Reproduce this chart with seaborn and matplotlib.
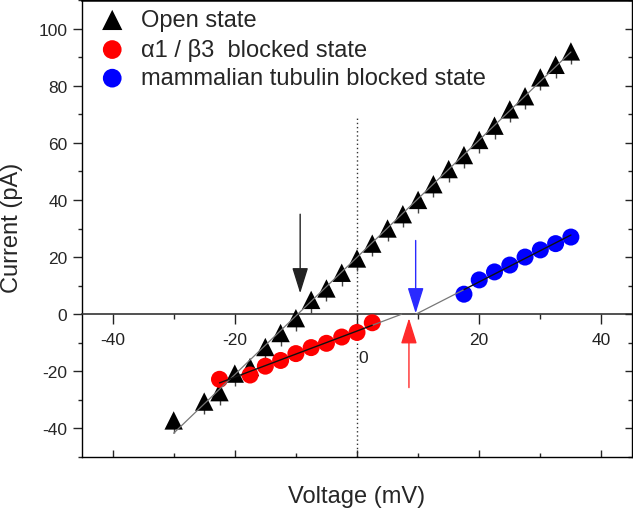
import numpy as np
import pandas as pd
import matplotlib
matplotlib.use("Agg")
import matplotlib.pyplot as plt
import seaborn as sns
from matplotlib.ticker import MultipleLocator

# ---------------- data ----------------
open_v = [-30, -25, -22.5, -20, -17.5, -15, -12.5, -10, -7.5, -5, -2.5, 0, 2.5,
          5, 7.5, 10, 12.5, 15, 17.5, 20, 22.5, 25, 27.5, 30, 32.5, 35]
open_i = [-37.2, -30.6, -27.3, -20.8, -18.5, -11.5, -6.6, -1.4, 5.0, 9.0, 14.5,
          19.5, 24.7, 30.0, 35.0, 40.0, 45.5, 50.8, 55.7, 61.0, 66.0, 71.7,
          76.3, 82.9, 87.3, 92.0]
open_err = 4.5

red_v = [-22.5, -17.5, -15, -12.5, -10, -7.5, -5, -2.5, 0, 2.5]
red_i = [-22.8, -21.3, -18.2, -16.2, -13.8, -11.7, -10.2, -8.0, -6.4, -3.0]

blue_v = [17.5, 20, 22.5, 25, 27.5, 30, 32.5, 35]
blue_i = [7.0, 12.0, 14.8, 17.2, 20.0, 22.5, 24.7, 27.0]

labels = ["Open state", "\u03b11 / \u03b23  blocked state",
          "mammalian tubulin blocked state"]

# reversal-potential arrows: (x, start y, tip y)
arrow_open = (-9.3, 35.0, 7.3)
arrow_red = (8.5, -25.7, -1.4)
arrow_blue = (9.6, 25.8, 0.3)

x_major = [-40, -20, 0, 20, 40]
x_labels = ["-40", "-20", "", "20", "40"]
y_major = [-40, -20, 0, 20, 40, 60, 80, 100]
y_labels = ["-40", "-20", "0", "20", "40", "60", "80", "100"]

# ---------------- style ----------------
sns.set_style("ticks")
plt.rcParams["font.family"] = ["Liberation Sans", "DejaVu Sans"]

W, H = 633, 510
fig = plt.figure(figsize=(W / 100, H / 100), dpi=100)
rect = [82 / W, 1 - 458 / H, (632 - 82) / W, (458 - 1) / H]
ax = fig.add_axes(rect)
ax.set_xlim(-45, 45)
ax.set_ylim(-50, 110)

df_open = pd.DataFrame({"V": open_v, "I": open_i})
df_red = pd.DataFrame({"V": red_v, "I": red_i})
df_blue = pd.DataFrame({"V": blue_v, "I": blue_i})

# dotted vertical line at 0 mV
ax.plot([0, 0], [-50, 69], color="#333333", lw=1.0, ls=(0, (1, 2)), zorder=1)

# error stems under the open-state triangles
n = len(open_v)
ax.errorbar(open_v, open_i, yerr=[[open_err] * n, [0] * n], fmt="none",
            ecolor="#444444", elinewidth=1.0, capsize=0, zorder=2,
            label="_nolegend_")

sns.scatterplot(data=df_open, x="V", y="I", marker="^", s=175, color="black",
                edgecolor="none", linewidth=0, ax=ax, zorder=3, label=labels[0])
sns.scatterplot(data=df_red, x="V", y="I", marker="o", s=150, color="#ff0000",
                edgecolor="none", linewidth=0, ax=ax, zorder=3, label=labels[1])
sns.scatterplot(data=df_blue, x="V", y="I", marker="o", s=150, color="#0000ff",
                edgecolor="none", linewidth=0, ax=ax, zorder=3, label=labels[2])

# linear fits
m_o, b_o = np.polyfit(open_v, open_i, 1)
xo = np.array([min(open_v), max(open_v)])
ax.plot(xo, m_o * xo + b_o, color="#777777", lw=0.9, zorder=4)

m_r, b_r = np.polyfit(red_v, red_i, 1)
xr_ext = np.array([max(red_v), -b_r / m_r])
ax.plot(xr_ext, m_r * xr_ext + b_r, color="#777777", lw=0.9, zorder=4)
xr = np.array([min(red_v), max(red_v)])
ax.plot(xr, m_r * xr + b_r, color="#111111", lw=1.0, zorder=4)

m_b, b_b = np.polyfit(blue_v, blue_i, 1)
xb_ext = np.array([-b_b / m_b, min(blue_v)])
ax.plot(xb_ext, m_b * xb_ext + b_b, color="#777777", lw=0.9, zorder=4)
xb = np.array([min(blue_v), max(blue_v)])
ax.plot(xb, m_b * xb + b_b, color="#111111", lw=1.0, zorder=4)

# arrows
for (x, y0, y1), col in [(arrow_open, "#222222"), (arrow_red, "#ff2a2a"),
                         (arrow_blue, "#2a2aff")]:
    ax.annotate("", xy=(x, y1), xytext=(x, y0),
                arrowprops=dict(arrowstyle="-|>,head_length=16,head_width=5",
                                mutation_scale=1, color=col, lw=1.0,
                                shrinkA=0, shrinkB=0), zorder=5)

# ---------------- axes styling ----------------
for s in ["top", "right"]:
    ax.spines[s].set_visible(False)
ax.spines["bottom"].set_position(("data", 0))
ax.spines["bottom"].set_color("#333333")
ax.spines["bottom"].set_linewidth(1.2)
ax.spines["left"].set_linewidth(1.0)
ax.spines["left"].set_color("black")

ax.set_xticks(x_major)
ax.set_xticklabels(x_labels)
ax.xaxis.set_minor_locator(MultipleLocator(10))
ax.set_yticks(y_major)
ax.set_yticklabels(y_labels)
ax.yaxis.set_minor_locator(MultipleLocator(10))
ax.tick_params(axis="x", which="major", direction="out", length=7, width=1.0,
               pad=5.5, labelsize=12.5, colors="#222222")
ax.tick_params(axis="x", which="minor", direction="out", length=3.5, width=1.0)
ax.tick_params(axis="y", which="major", direction="out", length=6.5, width=1.0,
               pad=4, labelsize=12.5)
ax.tick_params(axis="y", which="minor", direction="out", length=3, width=1.0)
ax.text(1.0, -15, "0", ha="center", va="center", fontsize=12.5, color="#222222")

ax.set_xlabel("Voltage (mV)", fontsize=17)
ax.xaxis.set_label_coords(0.5, -0.061)
ax.set_ylabel("Current (pA)", fontsize=17)
ax.yaxis.set_label_coords(-0.108, 0.503)

leg = ax.legend(loc="upper left", bbox_to_anchor=(0.0335, 0.98), frameon=False,
                fontsize=17, handlelength=1.0, handletextpad=0.7,
                labelspacing=0.28, borderpad=0, borderaxespad=0,
                markerscale=1.1)

# frame axes (box with inward ticks on bottom and right)
fr = fig.add_axes(rect, facecolor="none")
fr.set_xlim(-45, 45)
fr.set_ylim(-50, 110)
fr.xaxis.set_major_locator(MultipleLocator(20))
fr.xaxis.set_minor_locator(MultipleLocator(10))
fr.yaxis.set_major_locator(MultipleLocator(20))
fr.yaxis.set_minor_locator(MultipleLocator(10))
fr.tick_params(axis="x", which="both", direction="in", bottom=True, top=False,
               labelbottom=False)
fr.tick_params(axis="y", which="both", direction="in", left=False, right=True,
               labelleft=False, labelright=False)
fr.tick_params(which="major", length=5, width=1.0)
fr.tick_params(which="minor", length=3, width=1.0)
fr.spines["left"].set_visible(False)
fr.spines["top"].set_linewidth(1.8)
for s in ["right", "bottom"]:
    fr.spines[s].set_linewidth(1.0)
for s in ["top", "right", "bottom"]:
    fr.spines[s].set_color("black")

fig.savefig("out.png", dpi=100)
